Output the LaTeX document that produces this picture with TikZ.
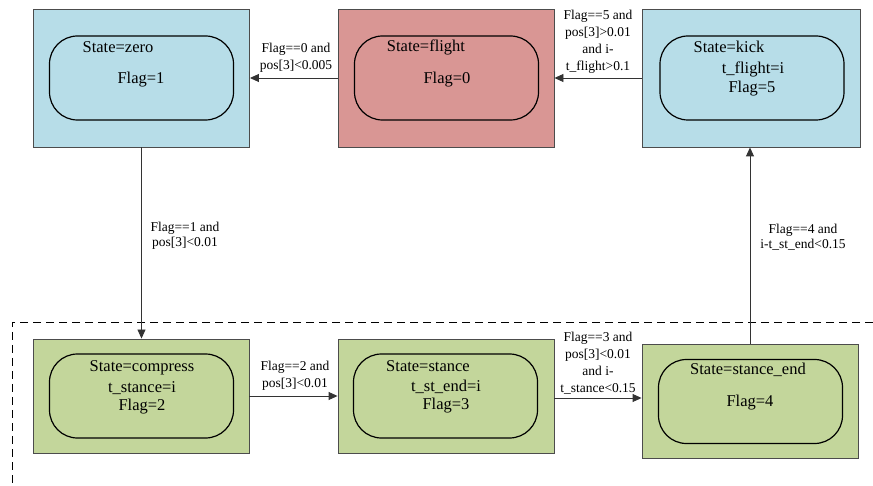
\documentclass[tikz,border=0pt]{standalone}
\usepackage{fontspec}
\setmainfont{Liberation Serif}
\usetikzlibrary{arrows.meta}
\definecolor{lblue}{RGB}{183,221,232}
\definecolor{lred}{RGB}{217,150,148}
\definecolor{lgreen}{RGB}{195,214,155}
\begin{document}
\begin{tikzpicture}[x=1pt,y=-1pt,
  outerbox/.style={draw=black!70, line width=0.9pt, inner sep=0pt, minimum width=216pt},
  innerbox/.style={draw=black, line width=1.2pt, rounded corners=28pt, inner sep=0pt, minimum width=184pt, minimum height=84pt},
  stxt/.style={inner sep=0pt, font=\fontsize{16.5}{19}\selectfont},
  lbl/.style={inner sep=0pt, align=center, font=\fontsize{13.5}{17}\selectfont},
  lblv/.style={inner sep=0pt, align=center, font=\fontsize{13.5}{14.5}\selectfont},
  conn/.style={draw=black!80, line width=0.9pt, -{Triangle[length=9pt,width=8pt]}}]
\useasboundingbox (0,0) rectangle (873,486);
% dashed frame
\draw[line width=0.8pt, dash pattern=on 8pt off 5pt] (873,322) -- (12,322) -- (12,486);
% outer boxes
\node[outerbox, fill=lblue, minimum height=138pt] (zero) at (141.5,78) {};
\node[outerbox, fill=lred, minimum height=138pt] (flight) at (446,78) {};
\node[outerbox, fill=lblue, minimum height=138pt, minimum width=218pt] (kick) at (751,78) {};
\node[outerbox, fill=lgreen, minimum height=114pt] (compress) at (141,396) {};
\node[outerbox, fill=lgreen, minimum height=114pt] (stance) at (446,396) {};
\node[outerbox, fill=lgreen, minimum height=114pt] (stanceend) at (750,401) {};
% inner rounded
\node[innerbox] (zeroi) at (141.5,78) {};
\node[innerbox] (flighti) at (446.5,78) {};
\node[innerbox] (kicki) at (752,78) {};
\node[innerbox] (compressi) at (141.5,396) {};
\node[innerbox] (stancei) at (445.5,396) {};
\node[innerbox] (stanceendi) at (750.5,401.5) {};
% texts
\node[stxt] (t1) at (118,47) {State=zero};
\node[stxt] (t2) at (141,80) {Flag=1};
\node[stxt] (t3) at (426,47) {State=flight};
\node[stxt] (t4) at (447,80) {Flag=0};
\node[stxt] (t5) at (729,47) {State=kick};
\node[stxt] (t6) at (753,69) {t\_flight=i};
\node[stxt] (t7) at (752,89) {Flag=5};
\node[stxt] (t8) at (142,368) {State=compress};
\node[stxt] (t9) at (142,388) {t\_stance=i};
\node[stxt] (t10) at (142,407) {Flag=2};
\node[stxt] (t11) at (428,366) {State=stance};
\node[stxt] (t12) at (446,387) {t\_st\_end=i};
\node[stxt] (t13) at (446,406) {Flag=3};
\node[stxt] (t14) at (748,370) {State=stance\_end};
\node[stxt] (t15) at (750,403) {Flag=4};
% connectors
\draw[conn] (flight.west) -- (zero.east);
\draw[conn] (kick.west) -- (flight.east);
\draw[conn] (zero.south) -- (zero.south |- compress.north);
\draw[conn] (compress.east) -- (stance.west);
\draw[conn] ([yshift=-2pt]stance.east) -- ([yshift=-2pt]stance.east -| stanceend.west);
\draw[conn] (stanceend.north) -- (stanceend.north |- kick.south);
% labels
\node[lbl] (l1) at (296,58) {Flag==0 and\\pos[3]<0.005};
\node[lbl] (l2) at (598,42) {Flag==5 and\\pos[3]>0.01\\and i-\\t\_flight>0.1};
\node[lblv] (l3) at (185,236) {Flag==1 and\\pos[3]<0.01};
\node[lblv] (l4) at (803,237) {Flag==4 and\\i-t\_st\_end<0.15};
\node[lbl] (l5) at (295,376) {Flag==2 and\\pos[3]<0.01};
\node[lbl] (l6) at (598,363) {Flag==3 and\\pos[3]<0.01\\and i-\\t\_stance<0.15};
\end{tikzpicture}
\end{document}
